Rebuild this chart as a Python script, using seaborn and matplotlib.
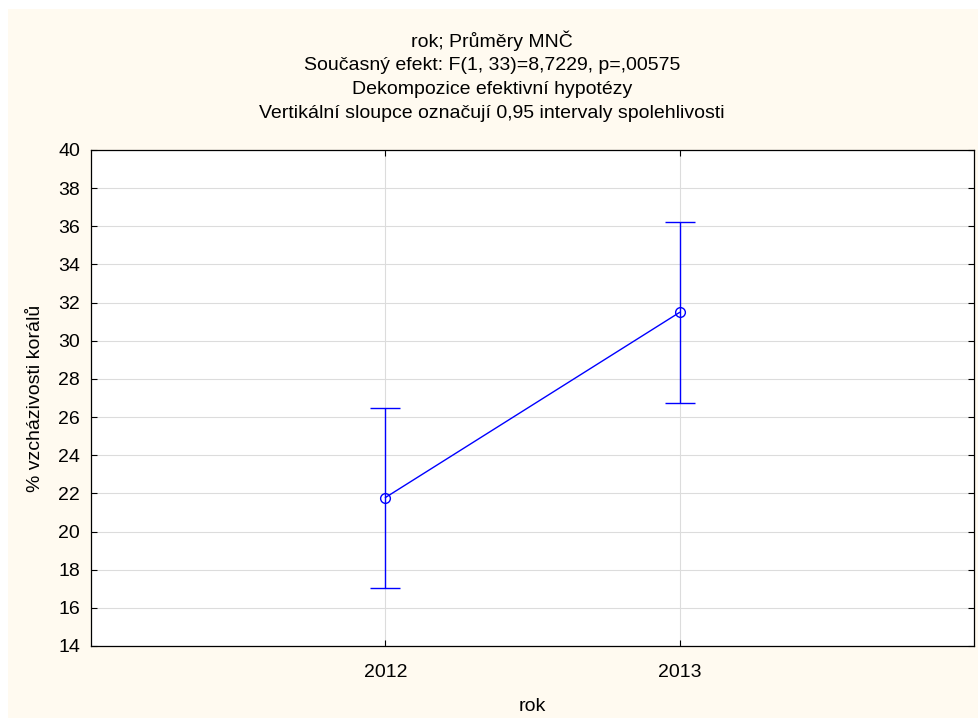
import seaborn as sns
import matplotlib.pyplot as plt
import pandas as pd
import numpy as np
from matplotlib.patches import Rectangle

years = ['2012', '2013']
means = [21.78, 31.49]
ci_low = [17.03, 26.76]
ci_high = [26.49, 36.24]

title_lines = [
    'rok; Průměry MNČ',
    'Současný efekt: F(1, 33)=8,7229, p=,00575',
    'Dekompozice efektivní hypotézy',
    'Vertikální sloupce označují 0,95 intervaly spolehlivosti',
]

sns.set_theme(style='white')
plt.rcParams['font.family'] = ['Liberation Sans', 'DejaVu Sans']

df = pd.DataFrame({'pos': np.arange(len(years)), 'mean': means})

fig = plt.figure(figsize=(9.79, 7.2), dpi=100, facecolor='white')
fig.patches.append(Rectangle((8 / 979, 2 / 720), 971 / 979, 709 / 720,
                             transform=fig.transFigure, facecolor='#fffaf0',
                             edgecolor='none', zorder=-10))
ax = fig.add_axes([91 / 979, 1 - 646 / 720, 883 / 979, 496 / 720])
ax.set_facecolor('white')

blue = '#0000ff'
fs = 14
sns.lineplot(data=df, x='pos', y='mean', ax=ax, color=blue, linewidth=1.0,
             marker='o', markersize=7, markerfacecolor='none',
             markeredgecolor=blue, markeredgewidth=1.0, zorder=3)
yerr = [np.array(means) - np.array(ci_low), np.array(ci_high) - np.array(means)]
ax.errorbar(df['pos'], df['mean'], yerr=yerr, fmt='none', ecolor=blue,
            elinewidth=1.0, capsize=10.5, capthick=1.0, zorder=2)

ax.set_xlim(-1, 2)
ax.set_ylim(14, 40)
ax.set_xticks(df['pos'])
ax.set_xticklabels(years)
ax.set_yticks(np.arange(14, 41, 2))
ax.grid(True, color='#dcdcdc', linewidth=0.8)
ax.set_axisbelow(True)
for s in ax.spines.values():
    s.set_color('black')
    s.set_linewidth(0.9)
ax.tick_params(axis='both', direction='in', length=4, width=0.8, colors='black',
               labelsize=fs, top=True, right=True, left=True, bottom=True)
ax.tick_params(axis='x', pad=13)
ax.tick_params(axis='y', pad=8)
ax.set_xlabel('rok', fontsize=fs, color='black', labelpad=12)
ax.set_ylabel('% vzcházivosti korálů', fontsize=fs, color='black', labelpad=10)

for i, line in enumerate(title_lines):
    fig.text(492 / 979, 1 - (41 + i * 24) / 720, line, ha='center', va='center',
             fontsize=fs, color='black')

fig.savefig('out.png', dpi=100, facecolor=fig.get_facecolor())
